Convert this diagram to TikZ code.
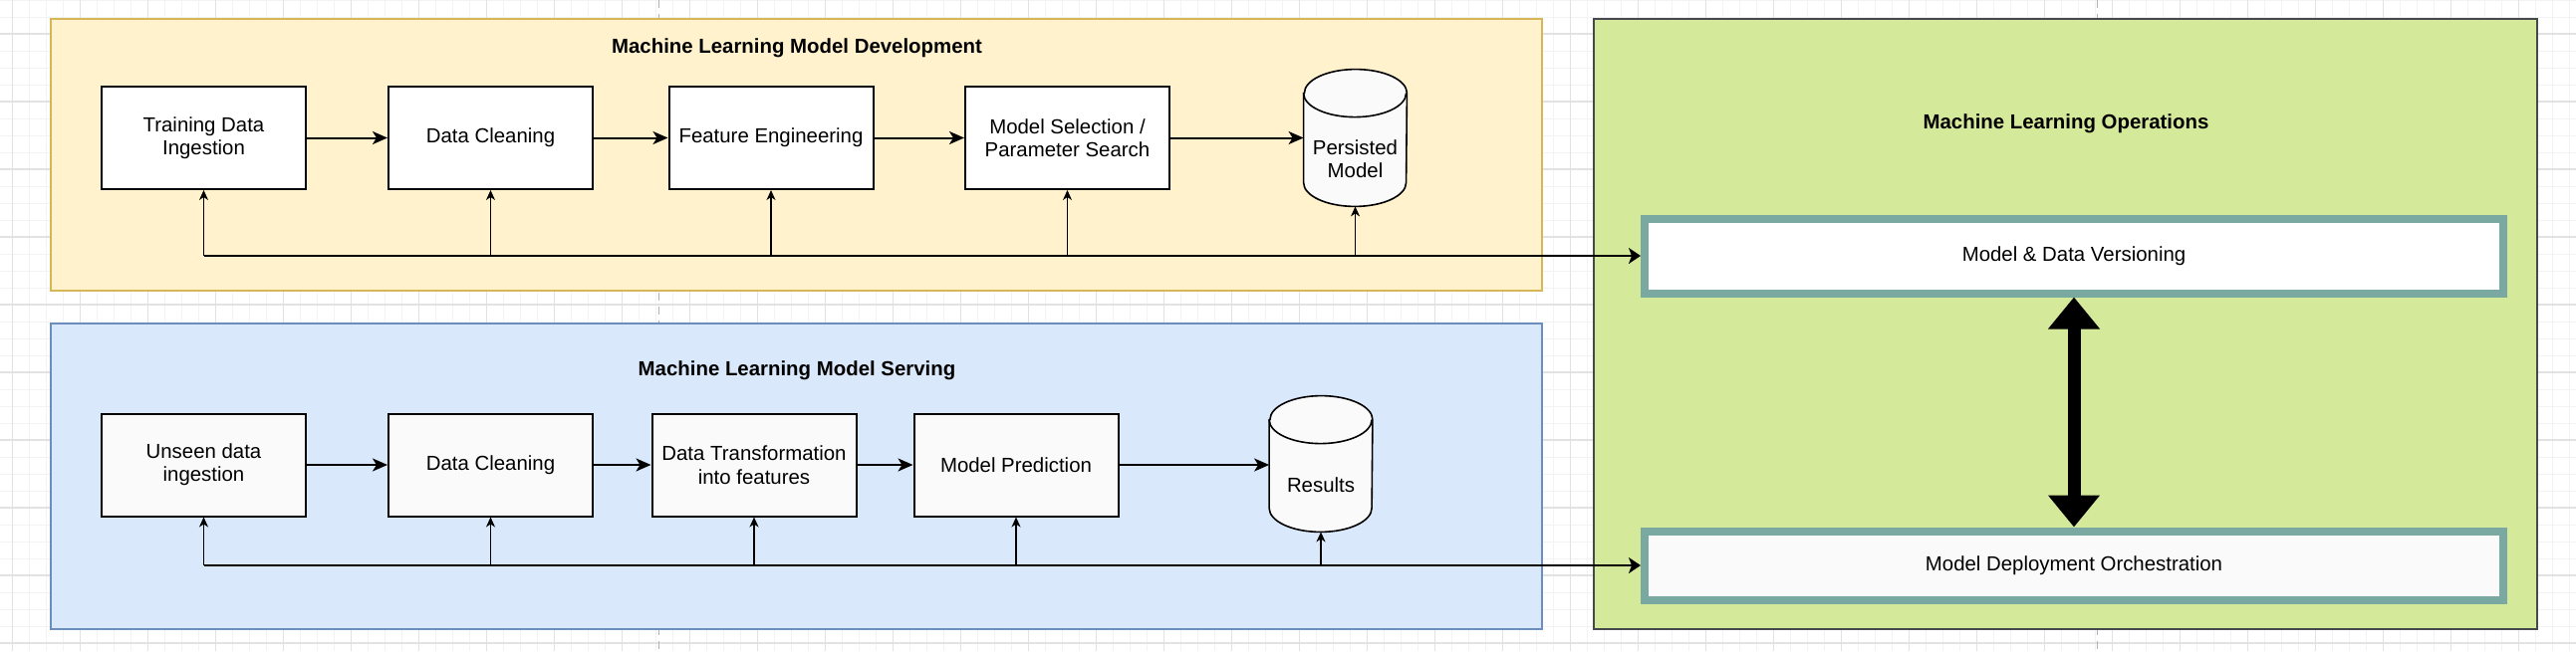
\documentclass[tikz,border=0pt]{standalone}
\usepackage{fontspec}
\setmainfont{Liberation Sans}
\usetikzlibrary{arrows.meta}
\definecolor{yellowfill}{HTML}{FFF2CC}
\definecolor{yellowdraw}{HTML}{D6B656}
\definecolor{bluefill}{HTML}{DAE8FC}
\definecolor{bluedraw}{HTML}{6C8EBF}
\definecolor{greenfill}{HTML}{D5E99A}
\definecolor{greendraw}{HTML}{45484C}
\definecolor{tealdraw}{HTML}{79A9A0}
\definecolor{offwhite}{HTML}{FAFAFA}
\definecolor{minorgrid}{HTML}{F3F3F3}
\definecolor{majorgrid}{HTML}{E2E2E2}
\begin{document}
\begin{tikzpicture}[x=0.5pt,y=-0.5pt,
  txt/.style={font=\fontsize{10.2}{11.7}\selectfont, align=center, inner sep=0pt},
  title/.style={txt, font=\fontsize{10.2}{11.7}\selectfont\bfseries},
  container/.style={draw, line width=1pt, minimum width=748.5pt, inner sep=0pt},
  stepbox/.style={txt, draw=black, line width=1pt, fill=white, minimum width=102.5pt, minimum height=51.5pt},
  opsbox/.style={txt, draw=tealdraw, line width=4pt, minimum width=431pt},
  cylbound/.style={inner sep=0pt, minimum width=51.5pt},
  cyl/.style={draw=black, line width=0.8pt, fill=offwhite},
  flow/.style={line width=1pt, -{Stealth[length=7.5pt,width=6.5pt,inset=2pt]}},
  bus/.style={line width=1pt},
  busin/.style={line width=1pt, -{Stealth[length=6pt,width=8pt,inset=1.5pt]}},
  feed/.style={line width=0.6pt, -{Stealth[length=5pt,width=4.5pt,inset=1.5pt]}},
  bigarrow/.style={line width=6.5pt, {Triangle[length=16pt,width=25pt]}-{Triangle[length=16pt,width=25pt]}}
]
\useasboundingbox (0,0) rectangle (2586,654);
\fill[white] (0,0) rectangle (2586,654);
% grid
\foreach \k in {0,...,151} {\draw[minorgrid, line width=0.5pt] ({12.3+17*\k},0) -- ({12.3+17*\k},654);}
\foreach \k in {0,...,38} {\draw[minorgrid, line width=0.5pt] (0,{17*\k}) -- (2586,{17*\k});}
\foreach \k in {0,...,37} {\draw[majorgrid, line width=0.6pt] ({12.3+68*\k},0) -- ({12.3+68*\k},654);}
\foreach \k in {0,...,9} {\draw[majorgrid, line width=0.6pt] (0,{34+68*\k}) -- (2586,{34+68*\k});}
% page breaks
\draw[gray!60, line width=0.5pt, dash pattern=on 4pt off 3pt] (661,0) -- (661,654);
\draw[gray!60, line width=0.5pt, dash pattern=on 4pt off 3pt] (2105,0) -- (2105,654);

% containers
\node[container, draw=yellowdraw, fill=yellowfill, minimum height=136.5pt] (dev) at (799.5,155.5) {};
\node[container, draw=bluedraw, fill=bluefill, minimum height=153.5pt] (serve) at (799.5,478.5) {};
\node[draw=greendraw, fill=greenfill, line width=1pt, minimum width=473.5pt, minimum height=306.5pt, inner sep=0pt] (ops) at (2073.5,325.5) {};

\node[title] (devt) at (800,48) {Machine Learning Model Development};
\node[title] (servet) at (800,372) {Machine Learning Model Serving};
\node[title] (opst) at (2074,124) {Machine Learning Operations};

% development row
\node[stepbox] (t1) at (204.5,138.5) {Training Data\\Ingestion};
\node[stepbox] (t2) at (492.5,138.5) {Data Cleaning};
\node[stepbox] (t3) at (774,138.5) {Feature Engineering};
\node[stepbox] (t4) at (1071.5,138.5) {Model Selection /\\Parameter Search};
\node[cylbound, minimum height=68.5pt] (pm) at (1360.5,138.5) {};
\draw[cyl] ([yshift=-12pt]pm.north west) -- ([yshift=12pt]pm.south west) arc (180:360:25.75pt and 12pt) -- ([yshift=-12pt]pm.north east) arc (0:180:25.75pt and 12pt) -- cycle;
\draw[cyl, fill=none] ([yshift=-12pt]pm.north west) arc (180:360:25.75pt and 12pt);
\node[txt] (pml) at (1360.5,160) {Persisted\\Model};

% serving row
\node[stepbox, fill=offwhite] (s1) at (204.5,467) {Unseen data\\ingestion};
\node[stepbox, fill=offwhite] (s2) at (492.5,467) {Data Cleaning};
\node[stepbox, fill=offwhite] (s3) at (757,467) {Data Transformation\\into features};
\node[stepbox, fill=offwhite] (s4) at (1020,467) {Model Prediction};
\node[cylbound, minimum height=68pt] (res) at (1326,466) {};
\draw[cyl] ([yshift=-12pt]res.north west) -- ([yshift=12pt]res.south west) arc (180:360:25.75pt and 12pt) -- ([yshift=-12pt]res.north east) arc (0:180:25.75pt and 12pt) -- cycle;
\draw[cyl, fill=none] ([yshift=-12pt]res.north west) arc (180:360:25.75pt and 12pt);
\node[txt] (resl) at (1326,487) {Results};

% ops boxes
\node[opsbox, fill=white, minimum height=37.5pt] (ver) at (2082,257) {Model \& Data Versioning};
\node[opsbox, fill=offwhite, minimum height=34.5pt] (dep) at (2082,568) {Model Deployment Orchestration};

% flow arrows
\draw[flow] (t1) -- (t2);
\draw[flow] (t2) -- (t3);
\draw[flow] (t3) -- (t4);
\draw[flow] (t4) -- (pm);
\draw[flow] (s1) -- (s2);
\draw[flow] (s2) -- (s3);
\draw[flow] (s3) -- (s4);
\draw[flow] (s4.east) -- (s4.east -| res.west);

% development bus
\coordinate (b1) at (t1.south |- ver.west);
\draw[busin] (b1) -- (ver.west);
\draw[feed] (b1) -- (t1.south);
\draw[feed] (t2.south |- b1) -- (t2.south);
\draw[feed] (t3.south |- b1) -- (t3.south);
\draw[feed] (t4.south |- b1) -- (t4.south);
\draw[feed] (pm.south |- b1) -- (pm.south);

% serving bus
\coordinate (b2) at (s1.south |- dep.west);
\draw[busin] (b2) -- (dep.west);
\draw[feed] (b2) -- (s1.south);
\draw[feed] (s2.south |- b2) -- (s2.south);
\draw[feed] (s3.south |- b2) -- (s3.south);
\draw[feed] (s4.south |- b2) -- (s4.south);
\draw[feed] (res.south |- b2) -- (res.south);

% ops link
\draw[bigarrow] (ver.south) -- (dep.north);
\end{tikzpicture}
\end{document}
